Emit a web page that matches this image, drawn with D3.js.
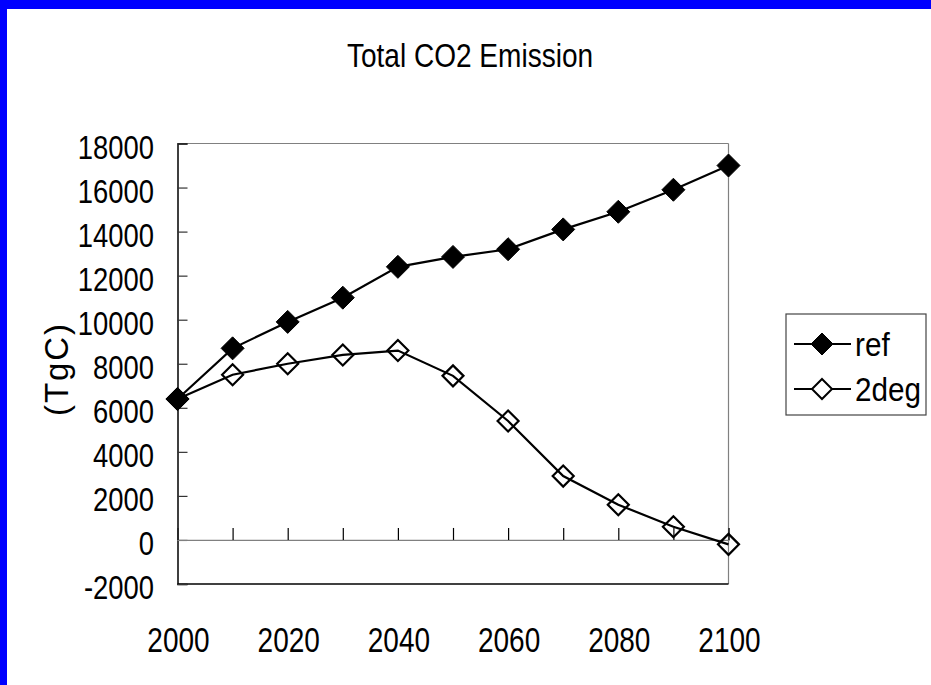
<!DOCTYPE html>
<html>
<head>
<meta charset="utf-8">
<script src="https://cdn.jsdelivr.net/npm/d3@7"></script>
<style>
  html, body { margin: 0; padding: 0; background: #fff; }
  svg { display: block; }
  text { font-family: 'Liberation Sans', Arial, sans-serif; fill: #000; }
</style>
</head>
<body>
<svg id="chart" width="931" height="685"></svg>
<script>
// Total CO2 emission by scenario (TgC)
const years = [2000, 2010, 2020, 2030, 2040, 2050, 2060, 2070, 2080, 2090, 2100];
const refValues = [6400, 8700, 9900, 11000, 12400, 12850, 13200, 14100, 14900, 15900, 17000];
const deg2Values = [6400, 7500, 8000, 8400, 8600, 7450, 5400, 2900, 1600, 600, -200];
const yTicks = [-2000, 0, 2000, 4000, 6000, 8000, 10000, 12000, 14000, 16000, 18000];
const xLabels = [2000, 2020, 2040, 2060, 2080, 2100];
const seriesNames = ["ref", "2deg"];

const svg = d3.select("#chart");
const W = 931, H = 685;

// page frame: blue bands on top and left
svg.append("rect").attr("x", 0).attr("y", 0).attr("width", W).attr("height", H).attr("fill", "#0000ff");
svg.append("rect").attr("x", 7).attr("y", 9).attr("width", W - 7).attr("height", H - 9).attr("fill", "#fff");

// condensed text: horizontally squeezed glyphs
function ctext(parent, px, py, str, size, sx, anchor) {
  return parent.append("text")
    .attr("transform", `translate(${px},${py}) scale(${sx},1)`)
    .attr("text-anchor", anchor || "start")
    .attr("font-size", size)
    .text(str);
}

const plot = { left: 177.5, right: 728.5, top: 143.5, bottom: 584 };

const x = d3.scaleLinear().domain([2000, 2100]).range([plot.left, plot.right]);
const y = d3.scaleLinear().domain([-2000, 18000]).range([plot.bottom, plot.top]);

// title
ctext(svg, 470, 67, "Total CO2 Emission", 33, 0.85, "middle");

// plot frame
svg.append("line").attr("x1", plot.left).attr("x2", plot.right).attr("y1", plot.top).attr("y2", plot.top)
  .attr("stroke", "#808080").attr("stroke-width", 1.2);
svg.append("line").attr("x1", plot.right).attr("x2", plot.right).attr("y1", plot.top).attr("y2", plot.bottom)
  .attr("stroke", "#808080").attr("stroke-width", 1.2);
svg.append("line").attr("x1", plot.left).attr("x2", plot.right).attr("y1", plot.bottom).attr("y2", plot.bottom)
  .attr("stroke", "#000").attr("stroke-width", 1.5);

// y axis with inward ticks
const yAxis = d3.axisRight(y).tickValues(yTicks).tickSize(10).tickFormat("");
const yg = svg.append("g").attr("transform", `translate(${plot.left},0)`).call(yAxis);
yg.select(".domain").attr("stroke", "#000").attr("stroke-width", 1.5);
yg.selectAll(".tick line").attr("stroke", "#333").attr("stroke-width", 1.2);

// y tick labels
const yl = svg.append("g");
yTicks.forEach(d => ctext(yl, 154, y(d) + 15, d, 33, 0.83, "end"));

// category axis crossing at zero, ticks pointing up
const xAxis = d3.axisTop(x).tickValues(years).tickSize(12).tickFormat("");
const xg = svg.append("g").attr("transform", `translate(0,${y(0)})`).call(xAxis);
xg.select(".domain").attr("stroke", "#808080").attr("stroke-width", 1.2);
xg.selectAll(".tick line").attr("stroke", "#000").attr("stroke-width", 1.2);

// x labels below the plot
const xl = svg.append("g");
xLabels.forEach(d => ctext(xl, x(d) + 1, 652, d, 35, 0.8, "middle"));

// y axis title
svg.append("text")
  .attr("transform", "translate(68,370) rotate(-90)")
  .attr("text-anchor", "middle")
  .attr("font-size", 33)
  .attr("textLength", 92)
  .attr("lengthAdjust", "spacing")
  .text("(TgC)");

// series lines
const line = d3.line()
  .x((d, i) => x(years[i]))
  .y(d => y(d));

const diamond = r => `M0,${-r}L${r},0L0,${r}L${-r},0Z`;

function drawSeries(values, filled) {
  svg.append("path").datum(values)
    .attr("d", line)
    .attr("fill", "none")
    .attr("stroke", "#000")
    .attr("stroke-width", 2.2);
  svg.append("g").selectAll("path").data(values).join("path")
    .attr("transform", (d, i) => `translate(${x(years[i])},${y(d)})`)
    .attr("d", filled ? diamond(11.5) : diamond(10.5))
    .attr("fill", filled ? "#000" : "none")
    .attr("stroke", "#000")
    .attr("stroke-width", filled ? 1 : 2.2);
}
drawSeries(refValues, true);
drawSeries(deg2Values, false);

// legend
const lg = svg.append("g");
lg.append("rect").attr("x", 786).attr("y", 314).attr("width", 140).attr("height", 101)
  .attr("fill", "#fff").attr("stroke", "#444").attr("stroke-width", 1.2);
seriesNames.forEach((name, i) => {
  const cy = 344 + i * 45;
  lg.append("line").attr("x1", 794).attr("x2", 851).attr("y1", cy).attr("y2", cy)
    .attr("stroke", "#000").attr("stroke-width", 2);
  lg.append("path")
    .attr("transform", `translate(822,${cy})`)
    .attr("d", i === 0 ? diamond(11) : diamond(10))
    .attr("fill", i === 0 ? "#000" : "#fff")
    .attr("stroke", "#000")
    .attr("stroke-width", i === 0 ? 1 : 2);
  ctext(lg, 855, cy + 12, name, 33, 0.9, "start");
});
</script>
</body>
</html>
